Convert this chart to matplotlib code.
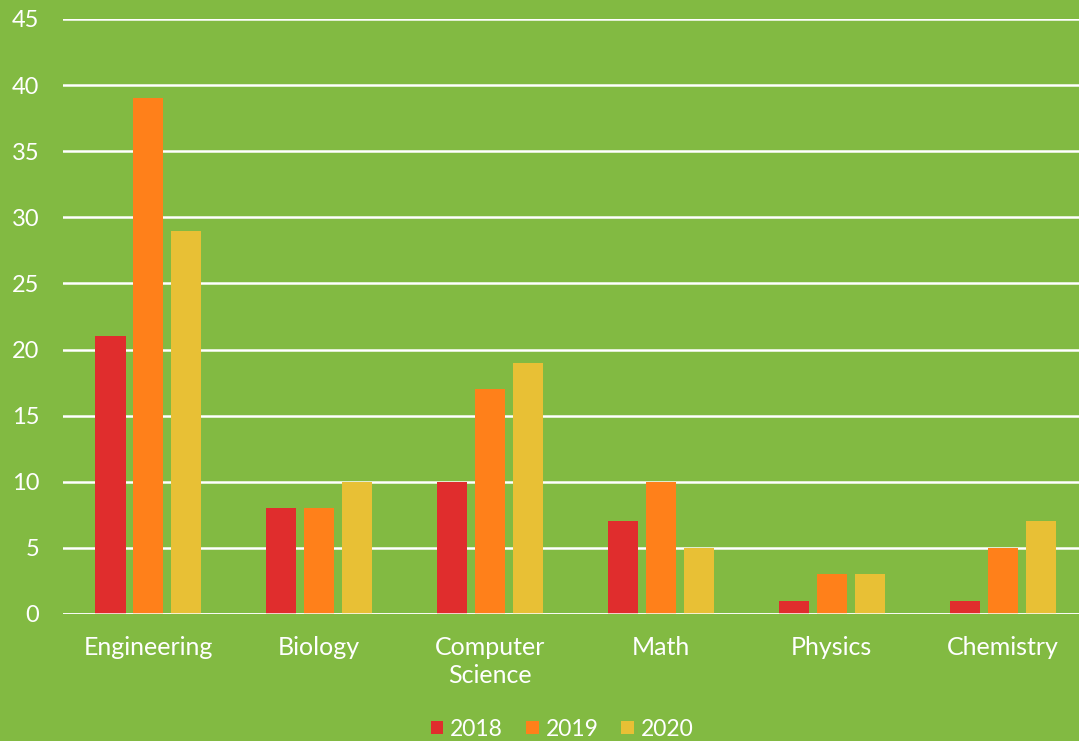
import matplotlib
matplotlib.use("Agg")
import matplotlib.pyplot as plt
import numpy as np

categories = ["Engineering", "Biology", "Computer\nScience", "Math", "Physics", "Chemistry"]
years = ["2018", "2019", "2020"]
v2018 = [21, 8, 10, 7, 1, 1]
v2019 = [39, 8, 17, 10, 3, 5]
v2020 = [29, 10, 19, 5, 3, 7]
colors = ["#E02D2D", "#FF801A", "#E8C035"]
bg = "#82BA42"

plt.rcParams['font.family'] = ['Lato', 'DejaVu Sans']

fig = plt.figure(figsize=(10.79, 7.41), dpi=100)
fig.patch.set_facecolor(bg)
ax = fig.add_axes([0.0584, 0.1714, 0.95, 0.803])
ax.set_facecolor(bg)

x = np.arange(len(categories))
off = 0.222
w = 0.176
for i, (vals, yr) in enumerate(zip([v2018, v2019, v2020], years)):
    ax.bar(x + (i - 1) * off, vals, width=w, color=colors[i], label=yr, zorder=3)

ax.set_xlim(-0.5, len(categories) - 0.5)
ax.set_ylim(0, 45)
ax.set_yticks(range(0, 46, 5))
ax.yaxis.grid(True, color="white", linewidth=1.8, zorder=0)
ax.set_axisbelow(True)
for s in ax.spines.values():
    s.set_visible(False)
ax.axhline(0, color="white", linewidth=1.8, zorder=4)
ax.set_xticks(x)
ax.set_xticklabels(categories, color="white", fontsize=18, linespacing=1.25)
ax.tick_params(axis='y', colors="white", labelsize=17, length=0, pad=17)
ax.tick_params(axis='x', length=0, pad=16)

leg = fig.legend(loc="center", bbox_to_anchor=(0.521, 0.016), ncol=3, frameon=False,
                 fontsize=16.5, handlelength=0.55, handleheight=0.55, handletextpad=0.3,
                 columnspacing=1.0)
for t in leg.get_texts():
    t.set_color("white")

fig.savefig("out.png", dpi=100, facecolor=bg)
